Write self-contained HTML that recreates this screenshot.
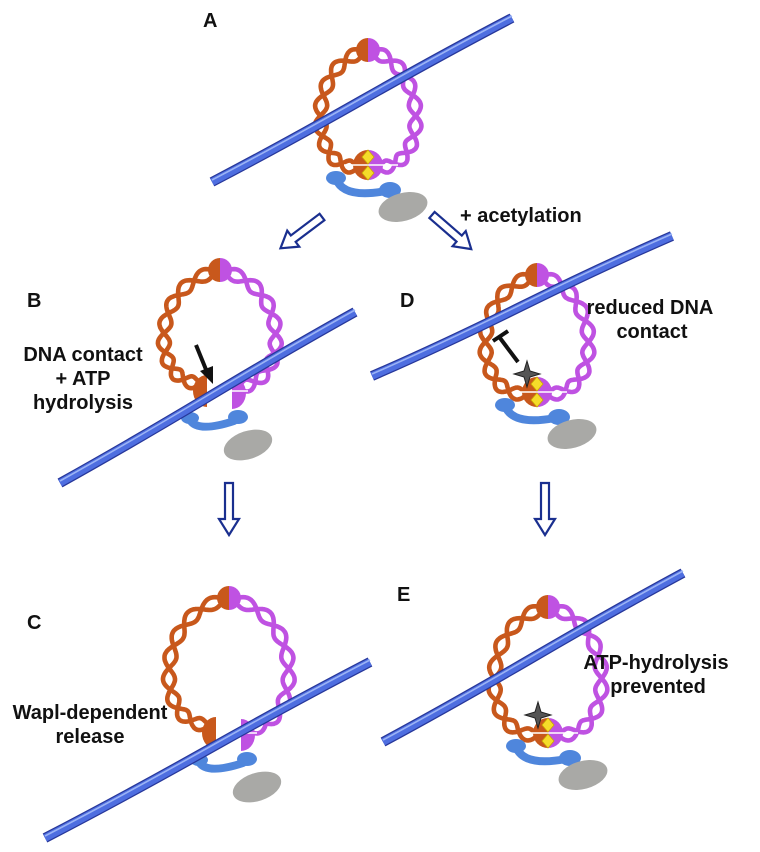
<!DOCTYPE html>
<html><head><meta charset="utf-8"><style>
body{margin:0;background:#fff}
svg{display:block}
text{font-family:"Liberation Sans",sans-serif;font-weight:bold;fill:#111}
</style></head><body>
<svg id="s" width="760" height="852" viewBox="0 0 760 852" xmlns="http://www.w3.org/2000/svg">
<g id="layer"></g>
<text x="203" y="27" font-size="20">A</text>
<text x="460" y="222" font-size="20">+ acetylation</text>
<text x="27" y="307" font-size="20">B</text>
<text x="400" y="307" font-size="20">D</text>
<text x="27" y="629" font-size="20">C</text>
<text x="397" y="601" font-size="20">E</text>
<g font-size="20" text-anchor="middle">
<text x="83" y="361">DNA contact</text>
<text x="83" y="385">+ ATP</text>
<text x="83" y="409">hydrolysis</text>
<text x="650" y="314">reduced DNA</text>
<text x="652" y="338">contact</text>
<text x="90" y="719">Wapl-dependent</text>
<text x="90" y="743">release</text>
<text x="656" y="669">ATP-hydrolysis</text>
<text x="658" y="693">prevented</text>
</g>
<g fill="#fff" stroke="#1a2f8f" stroke-width="2.2">
<path d="M0,-4 L36,-4 L36,-10 L52,0 L36,10 L36,4 L0,4Z" transform="translate(322,217) rotate(143)"/>
<path d="M0,-4 L36,-4 L36,-10 L52,0 L36,10 L36,4 L0,4Z" transform="translate(432,215) rotate(41)"/>
<path d="M0,-4 L36,-4 L36,-10 L52,0 L36,10 L36,4 L0,4Z" transform="translate(229,483) rotate(90)"/>
<path d="M0,-4 L36,-4 L36,-10 L52,0 L36,10 L36,4 L0,4Z" transform="translate(545,483) rotate(90)"/>
</g>
</svg>
<script>
const L=document.getElementById('layer');const NS='http://www.w3.org/2000/svg';
function el(t,a,p){const e=document.createElementNS(NS,t);for(const k in a)e.setAttribute(k,a[k]);(p||L).appendChild(e);return e;}
function bez(p,t){const u=1-t;return [u*u*u*p[0][0]+3*u*u*t*p[1][0]+3*u*t*t*p[2][0]+t*t*t*p[3][0],u*u*u*p[0][1]+3*u*u*t*p[1][1]+3*u*t*t*p[2][1]+t*t*t*p[3][1]];}
function coil(p,col,n){for(const ph of [0,Math.PI]){let d='';const N=160;for(let i=0;i<=N;i++){const t=i/N;const a=bez(p,t),b=bez(p,Math.min(1,t+0.005)),c=bez(p,Math.max(0,t-0.005));let dx=b[0]-c[0],dy=b[1]-c[1];const l=Math.hypot(dx,dy)||1;const nx=-dy/l,ny=dx/l;const o=6*Math.sin(t*n*Math.PI*2+ph);d+=(i?'L':'M')+(a[0]+nx*o).toFixed(1)+','+(a[1]+ny*o).toFixed(1);}el('path',{d:d,fill:'none',stroke:col,'stroke-width':4.6,'stroke-linejoin':'round'});}}
function dna(x1,y1,x2,y2){const mx=(x1+x2)/2,my=(y1+y2)/2;const d=`M${x1},${y1} Q${(x1+mx)/2-6},${(y1+my)/2+5} ${mx},${my} T${x2},${y2}`;el('path',{d:d,fill:'none',stroke:'#27379a','stroke-width':10});el('path',{d:d,fill:'none',stroke:'#4e6ee0','stroke-width':7.5});el('path',{d:d,fill:'none',stroke:'#9bb3f5','stroke-width':1.6,transform:'translate(0,-2)'});}
const OR='#c8581c',MG='#bf52e2',BL='#4f86dc';
function ring(cx,ty,by,hw,o){
 const a=hw/0.75;
 if(o.open){
  coil([[cx-4,ty+2],[cx-a,ty+15],[cx-a,by],[cx-20,by-2]],OR,4);
  coil([[cx+4,ty+2],[cx+a,ty+15],[cx+a,by],[cx+18,by+2]],MG,4);
 }else{
  coil([[cx-4,ty+2],[cx-a,ty+15],[cx-a,by+6],[cx-10,by+2]],OR,4);
  coil([[cx+4,ty+2],[cx+a,ty+15],[cx+a,by+6],[cx+10,by+2]],MG,4);
 }
 el('path',{d:`M${cx},${ty-12} A12,12 0 0 0 ${cx},${ty+12}Z`,fill:OR});
 el('path',{d:`M${cx},${ty-12} A12,12 0 0 1 ${cx},${ty+12}Z`,fill:MG});
 if(o.open){
  el('path',{d:`M${cx-30},${by+35} Q${cx-22},${by+48} ${cx+14},${by+36}`,fill:'none',stroke:BL,'stroke-width':8,'stroke-linecap':'round'});
  el('ellipse',{cx:cx-30,cy:by+33,rx:9,ry:6,fill:BL});
  el('ellipse',{cx:cx+18,cy:by+32,rx:10,ry:7,fill:BL});
  el('ellipse',{cx:cx+28,cy:by+60,rx:25,ry:14,fill:'#a9a9a6',transform:`rotate(-18 ${cx+28} ${by+60})`});
  el('path',{d:`M${cx-13},${by-10} A14,16 0 0 0 ${cx-13},${by+22}Z`,fill:OR});
  el('path',{d:`M${cx+12},${by-8} A14,16 0 0 1 ${cx+12},${by+24}Z`,fill:MG});
  el('line',{x1:cx+12,y1:by+6,x2:cx+28,y2:by+6,stroke:'#fff','stroke-width':1.5});
 }else{
  el('path',{d:`M${cx-32},${by+14} Q${cx-24},${by+34} ${cx+18},${by+26}`,fill:'none',stroke:BL,'stroke-width':8,'stroke-linecap':'round'});
  el('ellipse',{cx:cx-32,cy:by+13,rx:10,ry:7,fill:BL});
  el('ellipse',{cx:cx+22,cy:by+25,rx:11,ry:8,fill:BL});
  el('ellipse',{cx:cx+35,cy:by+42,rx:25,ry:14,fill:'#a9a9a6',transform:`rotate(-15 ${cx+35} ${by+42})`});
  el('path',{d:`M${cx},${by-15} A15,15 0 0 0 ${cx},${by+15}Z`,fill:OR});
  el('path',{d:`M${cx},${by-15} A15,15 0 0 1 ${cx},${by+15}Z`,fill:MG});
  el('line',{x1:cx-24,y1:by,x2:cx+30,y2:by,stroke:'#fff','stroke-width':1.5});
  for(const dy of [-8,8])el('path',{d:`M${cx},${by+dy-7} L${cx+6},${by+dy} L${cx},${by+dy+7} L${cx-6},${by+dy}Z`,fill:'#f5dc2a',stroke:'#c9a800','stroke-width':0.8});
 }
 if(o.star){const sx=cx-10,sy=by-18;el('path',{d:`M${sx},${sy-13} L${sx+3},${sy-3} L${sx+13},${sy} L${sx+3},${sy+3} L${sx},${sy+13} L${sx-3},${sy+3} L${sx-13},${sy} L${sx-3},${sy-3}Z`,fill:'#555',stroke:'#222','stroke-width':1});}
}
ring(368,50,165,46,{}); dna(212,182,512,18);
ring(220,270,385,53,{open:1}); dna(60,483,355,312);
el('line',{x1:196,y1:345,x2:207,y2:372,stroke:'#111','stroke-width':4});
el('path',{d:'M213,384 L200,371 L213,366Z',fill:'#111'});
ring(229,598,727,57,{open:1}); dna(45,838,370,662);
ring(537,275,392,50,{star:1}); dna(372,376,672,236);
el('line',{x1:500,y1:338,x2:518,y2:362,stroke:'#111','stroke-width':4});
el('line',{x1:493,y1:341,x2:508,y2:331,stroke:'#111','stroke-width':4});
ring(548,607,733,52,{star:1}); dna(383,742,683,573);
</script>
</body></html>
